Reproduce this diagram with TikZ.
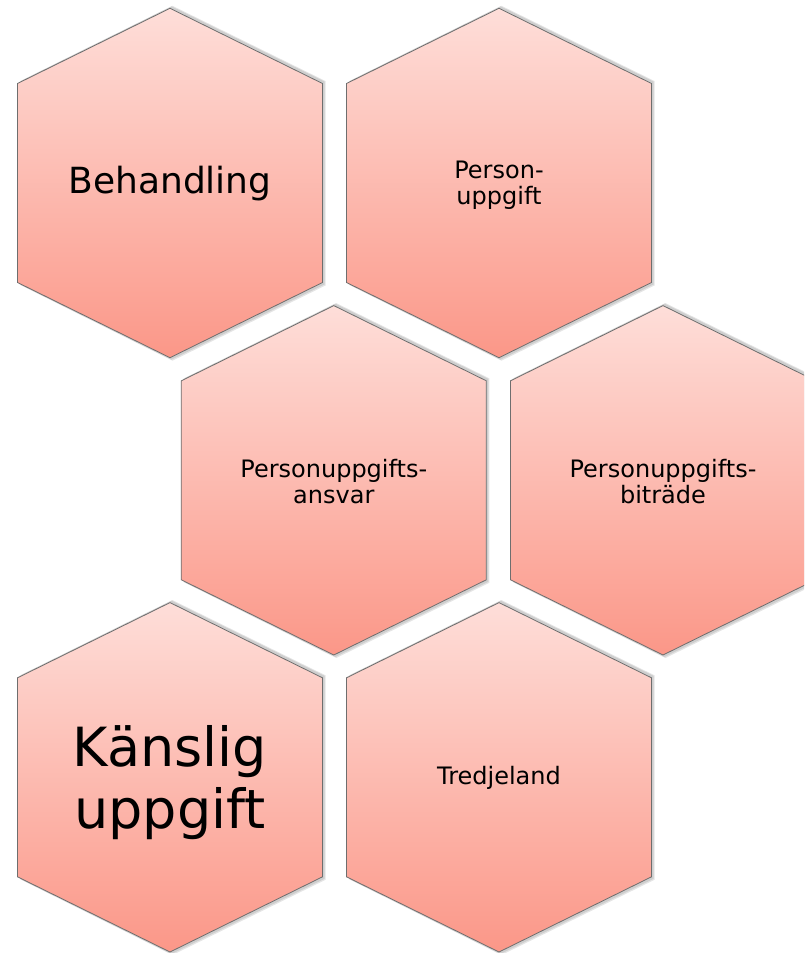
\documentclass[tikz,border=0pt]{standalone}
\usepackage{fontspec}
\setmainfont{DejaVu Sans}
\definecolor{hextop}{RGB}{254,222,217}
\definecolor{hexbot}{RGB}{251,151,136}
\definecolor{hexline}{RGB}{110,110,110}
\tikzset{
  hexshape/.style={draw=hexline, line width=0.8pt, line join=miter, top color=hextop, bottom color=hexbot},
  hexshadow/.style={fill=black, fill opacity=0.10, draw=none},
  hexlabel/.style={align=center, text=black, inner sep=0pt},
  small/.style={font=\fontsize{24}{26}\selectfont},
  mid/.style={font=\fontsize{36}{40}\selectfont},
  big/.style={font=\fontsize{54}{61.7}\selectfont}
}
\newcommand{\hexcell}[3]{%
  \begin{scope}[shift={(#1,#2)}]
    \fill[hexshadow] (1.5,-176.7) -- (154.5,-101.5) -- (154.5,101.5) -- (1.5,176.7) -- (-150.5,101.5) -- (-150.5,-101.5) -- cycle;
    \fill[hexshadow] (2.5,-177.2) -- (155.5,-102.0) -- (155.5,102.5) -- (2.5,177.7) -- (-149.5,102.0) -- (-149.5,-102.0) -- cycle;
    \path[hexshape] (0,-174.7) -- (152.5,-99.5) -- (152.5,99.5) -- (0,174.7) -- (-152.5,99.5) -- (-152.5,-99.5) -- cycle;
    \coordinate (#3) at (0,0);
  \end{scope}}
\begin{document}
\begin{tikzpicture}[x=1pt,y=-1pt]
\useasboundingbox (0,0) rectangle (804,953);
\clip (0,0) rectangle (804,953);
\hexcell{170}{183}{c1}
\hexcell{499}{183}{c2}
\hexcell{333.8}{480.3}{c3}
\hexcell{663}{480.3}{c4}
\hexcell{170}{777.3}{c5}
\hexcell{499}{777.3}{c6}
\node[hexlabel, mid] (behandling) at ([yshift=-1pt]c1) {Behandling};
\node[hexlabel, small] (personuppgift) at ([yshift=-2pt]c2) {Person-\\uppgift};
\node[hexlabel, small] (ansvar) at ([yshift=-1pt]c3) {Personuppgifts-\\ansvar};
\node[hexlabel, small] (bitrade) at ([yshift=-1pt]c4) {Personuppgifts-\\biträde};
\node[hexlabel, big] (kanslig) at ([yshift=-5pt]c5) {Känslig\\uppgift};
\node[hexlabel, small] (tredjeland) at ([yshift=-1pt]c6) {Tredjeland};
\end{tikzpicture}
\end{document}
